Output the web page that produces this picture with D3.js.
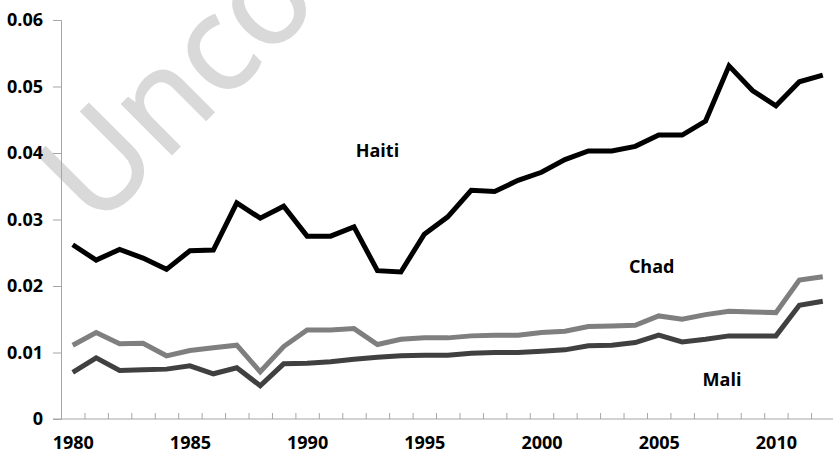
<!DOCTYPE html>
<html>
<head>
<meta charset="utf-8">
<script src="https://cdn.jsdelivr.net/npm/d3@7"></script>
<style>
  body { margin: 0; background: #fff; }
  text { font-family: "Open Sans", sans-serif; font-weight: bold; }
</style>
</head>
<body>
<script>
// years on the category axis
const years = d3.range(1980, 2013);

// series values
const haiti = [0.0262, 0.0239, 0.0255, 0.0242, 0.0225, 0.0253, 0.0254, 0.0325, 0.0302, 0.0320,
  0.0275, 0.0275, 0.0289, 0.0223, 0.0221, 0.0278, 0.0304, 0.0344, 0.0342, 0.0359,
  0.0371, 0.0390, 0.0403, 0.0403, 0.0410, 0.0427, 0.0427, 0.0448, 0.0531, 0.0494,
  0.0471, 0.0507, 0.0517];
const chad = [0.0111, 0.0130, 0.0113, 0.0114, 0.0095, 0.0103, 0.0107, 0.0111, 0.0071, 0.0109,
  0.0134, 0.0134, 0.0136, 0.0112, 0.0120, 0.0122, 0.0122, 0.0125, 0.0126, 0.0126,
  0.0130, 0.0132, 0.0139, 0.0140, 0.0141, 0.0155, 0.0150, 0.0157, 0.0162, 0.0161,
  0.0160, 0.0209, 0.0214];
const mali = [0.0070, 0.0092, 0.0073, 0.0074, 0.0075, 0.0080, 0.0068, 0.0077, 0.0050, 0.0083,
  0.0084, 0.0086, 0.0090, 0.0093, 0.0095, 0.0096, 0.0096, 0.0099, 0.0100, 0.0100,
  0.0102, 0.0104, 0.0110, 0.0111, 0.0115, 0.0126, 0.0116, 0.0120, 0.0125, 0.0125,
  0.0125, 0.0171, 0.0177];

const yTicks = [0, 0.01, 0.02, 0.03, 0.04, 0.05, 0.06];
const xLabels = [1980, 1985, 1990, 1995, 2000, 2005, 2010];

const width = 833, height = 453;

const svg = d3.select('body').append('svg')
  .attr('width', width)
  .attr('height', height);

const x = d3.scaleLinear().domain([1979.5, 2012.5]).range([61, 834.5]);
const y = d3.scaleLinear().domain([0, 0.06]).range([419, 20]);

// watermark behind everything (runs off the top edge, as in the original)
svg.append('text')
  .attr('transform', 'translate(96,230) rotate(-45)')
  .attr('font-family', '"Liberation Sans", sans-serif')
  .style('font-weight', 'normal')
  .attr('font-size', 132)
  .attr('fill', '#d9d9d9')
  .attr('stroke', '#d9d9d9')
  .attr('stroke-width', 2)
  .text('Unco');

// y axis
const yAxis = svg.append('g')
  .attr('transform', 'translate(61,0)')
  .call(d3.axisLeft(y).tickValues(yTicks).tickSize(8).tickPadding(10)
    .tickFormat(d => d === 0 ? '0' : d3.format('.2f')(d)));
yAxis.selectAll('text').attr('font-size', 18).attr('fill', '#000');

// x axis: tick marks between years, pointing inward
const xAxis = svg.append('g')
  .attr('transform', 'translate(0,419)')
  .call(d3.axisBottom(x).tickValues(d3.range(1979.5, 2013.5, 1)).tickSize(-6).tickFormat(''));
xAxis.select('.domain').attr('d', 'M53,0H833');

// x labels
const xLab = svg.append('g')
  .attr('transform', 'translate(0,419)')
  .call(d3.axisBottom(x).tickValues(xLabels).tickSize(0).tickPadding(17).tickFormat(d3.format('d')));
xLab.select('.domain').remove();
xLab.selectAll('text').attr('font-size', 18).attr('fill', '#000');

svg.selectAll('.domain, .tick line').attr('stroke', '#a6a6a6');

const line = d3.line()
  .x((d, i) => x(years[i]))
  .y(d => y(d));

const series = [
  { name: 'Mali', values: mali, color: '#404040' },
  { name: 'Chad', values: chad, color: '#7f7f7f' },
  { name: 'Haiti', values: haiti, color: '#000000' }
];

svg.selectAll('.series')
  .data(series)
  .enter()
  .append('path')
  .attr('class', 'series')
  .attr('d', d => line(d.values))
  .attr('fill', 'none')
  .attr('stroke', d => d.color)
  .attr('stroke-width', 5)
  .attr('stroke-linejoin', 'miter');

// series labels
const labels = [
  { text: 'Haiti', year: 1993.0, value: 0.0394 },
  { text: 'Chad', year: 2004.7, value: 0.0219 },
  { text: 'Mali', year: 2007.7, value: 0.0050 }
];
svg.selectAll('.label')
  .data(labels)
  .enter()
  .append('text')
  .attr('class', 'label')
  .attr('x', d => x(d.year))
  .attr('y', d => y(d.value))
  .attr('text-anchor', 'middle')
  .attr('font-size', 18)
  .text(d => d.text);
</script>
</body>
</html>
